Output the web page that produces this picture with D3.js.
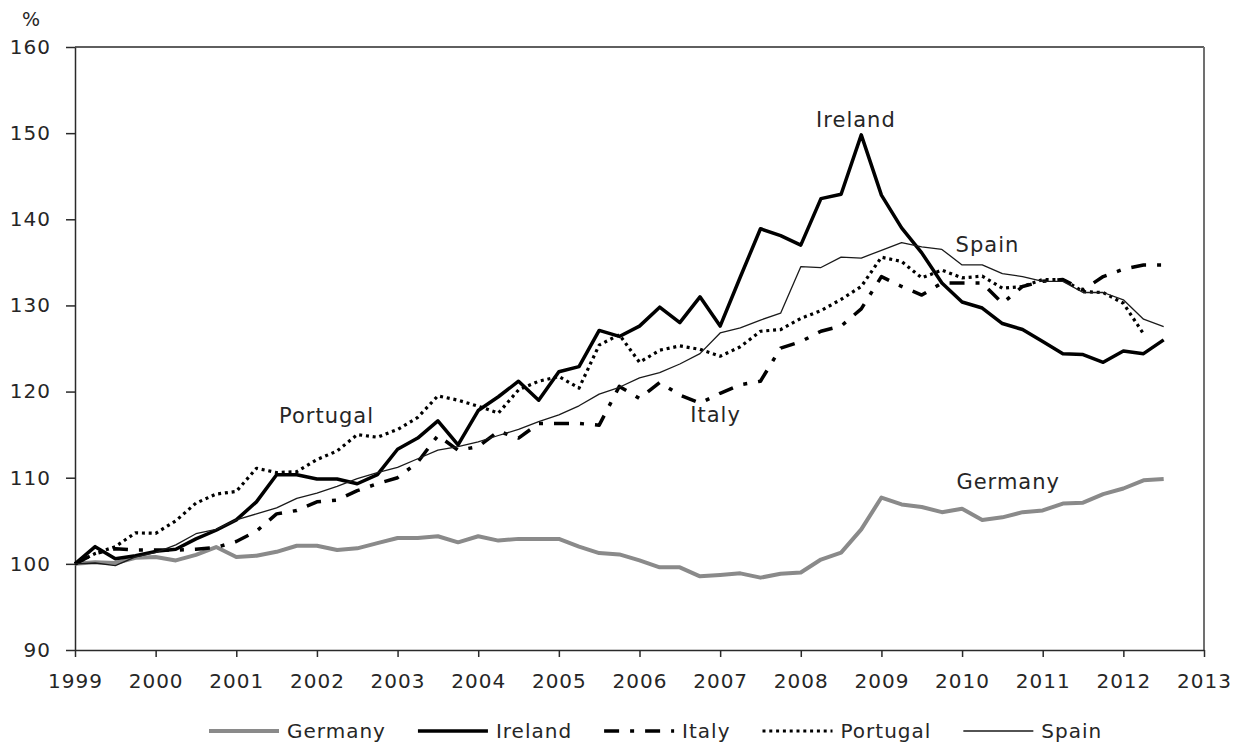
<!DOCTYPE html>
<html>
<head>
<meta charset="utf-8">
<script src="https://cdn.jsdelivr.net/npm/d3@7"></script>
<style>
  body { margin: 0; background: #fff; }
  text { font-family: "DejaVu Sans", Verdana, sans-serif; fill: #262626; }
  .axis text { font-size: 20px; letter-spacing: 1px; }
  .axis path, .axis line { stroke: #2a2a2a; stroke-width: 1.5; }
</style>
</head>
<body>
<svg id="chart"></svg>
<script>
// quarterly index, 1999 Q1 = 100
let quarters = d3.range(55).map(i => 1999 + i / 4);

let germany = [100.0, 100.2, 100.1, 100.7,
  100.8, 100.4, 101.05, 101.95,
  100.8, 100.95, 101.4, 102.1,
  102.1, 101.6, 101.8, 102.4,
  103.0, 103.0, 103.2, 102.5,
  103.2, 102.7, 102.9, 102.9,
  102.9, 102.0, 101.25, 101.1,
  100.4, 99.6, 99.6, 98.55,
  98.7, 98.9, 98.4, 98.85,
  99.0, 100.5, 101.3, 104.0,
  107.7, 106.9, 106.6, 106.0,
  106.4, 105.1, 105.4, 106.0,
  106.2, 107.0, 107.1, 108.1,
  108.75, 109.7, 109.85];

let ireland = [100.0, 102.0, 100.6, 100.95,
  101.45, 101.7, 102.9, 103.9,
  105.1, 107.2, 110.35, 110.35,
  109.85, 109.85, 109.3, 110.35,
  113.3, 114.6, 116.6, 113.8,
  117.8, 119.4, 121.2, 119.0,
  122.3, 122.9, 127.1, 126.4,
  127.6, 129.8, 128.0, 131.0,
  127.6, 133.3, 138.9, 138.1,
  137.0, 142.4, 142.9, 149.8,
  142.8, 139.0, 136.1, 132.6,
  130.4, 129.7, 127.9, 127.2,
  125.8, 124.4, 124.3, 123.4,
  124.7, 124.4, 126.0];

let italy = [100.0, 101.2, 101.75, 101.6,
  101.6, 101.6, 101.7, 101.9,
  102.6, 103.8, 105.8, 106.2,
  107.2, 107.4, 108.5, 109.3,
  110.0, 111.8, 114.9, 113.2,
  113.6, 115.4, 114.6, 116.3,
  116.3, 116.3, 116.1, 120.6,
  119.2, 121.05, 119.6, 118.65,
  119.8, 120.8, 121.2, 125.05,
  125.8, 127.0, 127.6, 129.6,
  133.35, 132.2, 131.2, 132.6,
  132.6, 132.6, 130.25, 132.2,
  132.8, 133.0, 131.8, 133.35,
  134.2, 134.7, 134.7];

let portugal = [100.0, 101.2, 102.0, 103.6,
  103.55, 105.0, 107.05, 108.1,
  108.4, 111.1, 110.6, 110.7,
  112.1, 113.1, 115.0, 114.7,
  115.6, 117.0, 119.5, 119.0,
  118.3, 117.5, 120.2, 121.2,
  121.75, 120.4, 125.4, 126.6,
  123.4, 124.8, 125.3, 124.9,
  124.1, 125.2, 127.0, 127.2,
  128.5, 129.4, 130.7, 132.2,
  135.6, 135.1, 133.2, 134.1,
  133.2, 133.4, 132.0, 132.2,
  133.0, 133.0, 131.6, 131.5,
  130.25, 126.7];

let spain = [100.0, 100.1, 99.8, 100.8,
  101.3, 102.2, 103.5, 104.0,
  105.1, 105.8, 106.5, 107.6,
  108.2, 109.0, 109.9, 110.6,
  111.2, 112.2, 113.2, 113.6,
  114.15, 114.9, 115.6, 116.5,
  117.3, 118.35, 119.7, 120.5,
  121.6, 122.2, 123.2, 124.4,
  126.8, 127.4, 128.3, 129.1,
  134.5, 134.4, 135.6, 135.5,
  136.4, 137.3, 136.8, 136.5,
  134.7, 134.7, 133.7, 133.35,
  132.8, 132.8, 131.5, 131.5,
  130.65, 128.4, 127.55];

let seriesNames = ["Germany", "Ireland", "Italy", "Portugal", "Spain"];
let seriesValues = [germany, ireland, italy, portugal, spain];

let xTicks = [1999, 2000, 2001, 2002, 2003, 2004, 2005, 2006, 2007, 2008, 2009, 2010, 2011, 2012, 2013];
let yTicks = [90, 100, 110, 120, 130, 140, 150, 160];

// in-chart labels: [name, year, value] where the text baseline starts
let labels = [
  ["Portugal", 2001.53, 116.3],
  ["Ireland", 2008.19, 150.75],
  ["Italy", 2006.63, 116.5],
  ["Spain", 2009.92, 136.2],
  ["Germany", 2009.93, 108.7]
];

let config = { svg: {}, plot: {}, legend: {} };
config.svg.width = 1242;
config.svg.height = 745;
config.plot.left = 75;
config.plot.right = 1204;
config.plot.top = 47;
config.plot.bottom = 650;
config.legend.x = 209;
config.legend.y = 731;
config.legend.line = 70;

let styles = {
  Germany:  { stroke: "#8a8a8a", width: 4, dash: null },
  Ireland:  { stroke: "#000", width: 3.5, dash: null },
  Italy:    { stroke: "#000", width: 3.5, dash: "15,11,4,11" },
  Portugal: { stroke: "#000", width: 3.2, dash: "3,3.8" },
  Spain:    { stroke: "#1a1a1a", width: 1.3, dash: null }
};

let svg = d3.select("svg#chart")
  .attr("width", config.svg.width)
  .attr("height", config.svg.height);

let scale = {};
scale.x = d3.scaleLinear().domain([1999, 2013]).range([config.plot.left, config.plot.right]);
scale.y = d3.scaleLinear().domain([90, 160]).range([config.plot.bottom, config.plot.top]);

let axis = {};
axis.x = d3.axisBottom(scale.x).tickValues(xTicks).tickFormat(d3.format("d"))
  .tickSize(7).tickSizeOuter(0).tickPadding(17);
axis.y = d3.axisLeft(scale.y).tickValues(yTicks)
  .tickSize(9).tickSizeOuter(0).tickPadding(15);

// frame: top and right sides
svg.append("line")
  .attr("x1", config.plot.left).attr("x2", config.plot.right)
  .attr("y1", config.plot.top).attr("y2", config.plot.top)
  .attr("stroke", "#2a2a2a").attr("stroke-width", 1.5);
svg.append("line")
  .attr("x1", config.plot.right).attr("x2", config.plot.right)
  .attr("y1", config.plot.top).attr("y2", config.plot.bottom)
  .attr("stroke", "#707070").attr("stroke-width", 2);

svg.append("g")
  .attr("class", "axis")
  .attr("transform", translate(0, config.plot.bottom))
  .call(axis.x);

svg.append("g")
  .attr("class", "axis")
  .attr("transform", translate(config.plot.left, 0))
  .call(axis.y);

svg.append("text")
  .text("%")
  .attr("x", 31)
  .attr("y", 26)
  .attr("text-anchor", "middle")
  .attr("font-size", "19px");

let line = d3.line()
  .x(d => scale.x(d.t))
  .y(d => scale.y(d.v));

let series = seriesNames.map((name, i) => ({
  name: name,
  points: seriesValues[i].map((v, j) => ({ t: quarters[j], v: v }))
}));

svg.append("g")
  .selectAll("path")
  .data(series)
  .enter()
  .append("path")
  .attr("d", d => line(d.points))
  .attr("fill", "none")
  .attr("stroke", d => styles[d.name].stroke)
  .attr("stroke-width", d => styles[d.name].width)
  .attr("stroke-dasharray", d => styles[d.name].dash)
  .attr("stroke-linejoin", "round");

svg.append("g")
  .selectAll("text")
  .data(labels)
  .enter()
  .append("text")
  .text(d => d[0])
  .attr("x", d => scale.x(d[1]))
  .attr("y", d => scale.y(d[2]))
  .attr("font-size", "21px")
  .attr("letter-spacing", "1px");

drawLegend();

function drawLegend() {
  let g = svg.append("g").attr("id", "legend");
  let x = config.legend.x;
  for (const name of seriesNames) {
    let st = styles[name];
    g.append("line")
      .attr("x1", x).attr("x2", x + config.legend.line)
      .attr("y1", config.legend.y).attr("y2", config.legend.y)
      .attr("stroke", st.stroke)
      .attr("stroke-width", st.width)
      .attr("stroke-dasharray", st.dash);
    let t = g.append("text")
      .text(name)
      .attr("x", x + config.legend.line + 8)
      .attr("y", config.legend.y + 7)
      .attr("font-size", "20px")
      .attr("letter-spacing", "1px");
    x += config.legend.line + 8 + t.node().getComputedTextLength() + 32;
  }
}

function translate(x, y) {
  return 'translate(' + x + ',' + y + ')';
}
</script>
</body>
</html>
